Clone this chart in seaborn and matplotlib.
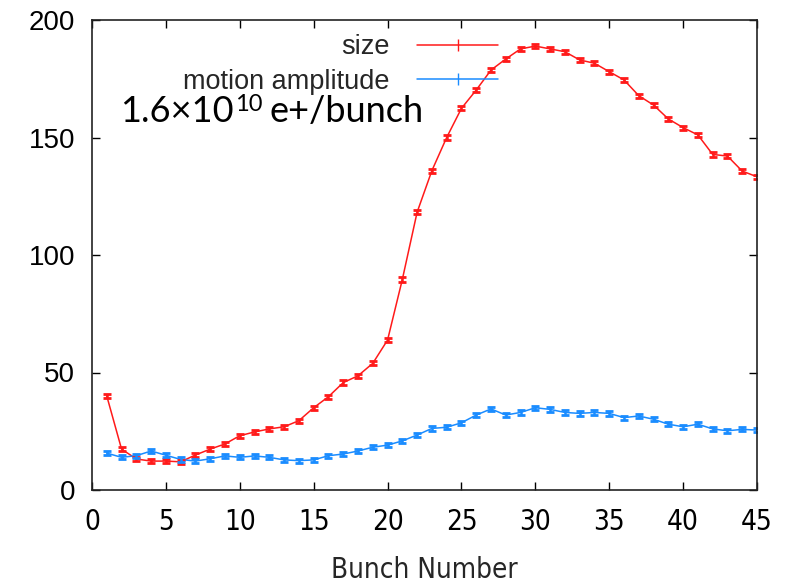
import matplotlib
matplotlib.use("Agg")
import matplotlib.pyplot as plt
import seaborn as sns
import numpy as np
import pandas as pd
from matplotlib.lines import Line2D
from matplotlib.transforms import offset_copy

bunch = list(range(1, 46))
size = [40, 17.4, 13.2, 12.3, 12.3, 12.0, 14.9, 17.4, 19.6, 23.1,
        24.7, 26.0, 26.9, 29.5, 35.0, 39.7, 45.7, 48.6, 53.9, 63.8,
        89.6, 118.2, 135.9, 150.0, 162.4, 170.2, 178.7, 183.4, 187.7, 188.9,
        187.7, 186.5, 183.0, 181.6, 178.0, 174.5, 167.8, 163.8, 157.9, 154.2,
        151.1, 142.8, 142.1, 135.7, 133.3]
motion = [15.7, 13.9, 14.6, 16.6, 14.8, 13.0, 12.3, 13.3, 14.5, 13.9,
          14.5, 13.9, 12.8, 12.5, 12.8, 14.6, 15.3, 16.6, 18.2, 19.1,
          20.9, 23.4, 26.2, 26.7, 28.6, 31.9, 34.5, 31.9, 33.0, 35.0,
          34.3, 33.0, 32.6, 33.0, 32.6, 30.8, 31.5, 30.1, 28.0, 26.9,
          28.0, 26.0, 25.2, 25.8, 25.5]
xticks = [0, 5, 10, 15, 20, 25, 30, 35, 40, 45]
yticks = [0, 50, 100, 150, 200]

sns.set_style("ticks")
plt.rcParams['font.family'] = ['Liberation Sans', 'DejaVu Sans']

fig = plt.figure(figsize=(8.08, 5.84), dpi=100)
ax = fig.add_axes([92/808, 94/584, 665/808, 470/584])

red = '#ff1a1a'
blue = '#1a8cff'
df = pd.DataFrame({'bunch': bunch, 'size': size, 'motion': motion})

sns.lineplot(data=df, x='bunch', y='size', color=red, lw=1.1, ax=ax, legend=False)
sns.lineplot(data=df, x='bunch', y='motion', color=blue, lw=1.1, ax=ax, legend=False)
ax.errorbar(bunch, size, yerr=0.9, fmt='none', ecolor=red, elinewidth=1.8, capsize=3, capthick=2)
ax.errorbar(bunch, motion, yerr=0.9, fmt='none', ecolor=blue, elinewidth=1.8, capsize=3, capthick=2)

lh1 = Line2D([], [], color=red, lw=1.1, marker='|', markersize=8, markevery=[0, 1, 2])
lh2 = Line2D([], [], color=blue, lw=1.1, marker='|', markersize=8, markevery=[0, 1, 2])

ax.set_xlim(0, 45)
ax.set_ylim(0, 200)
ax.set_xticks(xticks)
ax.set_yticks(yticks)
ax.tick_params(direction='in', length=6, width=1, top=True, right=True,
               colors='black')
ax.tick_params(axis='x', labelsize=20, pad=13)
ax.tick_params(axis='y', labelsize=20, pad=12)
for lab in ax.get_xticklabels():
    lab.set_family('DejaVu Sans')
    lab.set_fontstretch('condensed')
for s in ax.spines.values():
    s.set_visible(True)
    s.set_linewidth(1.2)
    s.set_color('#222222')

xl = ax.set_xlabel('Bunch Number', fontsize=20, labelpad=14)
xl.set_family('DejaVu Sans')
xl.set_fontstretch('condensed')
ax.set_ylabel('')

leg = ax.legend([lh1, lh2], ['size', 'motion amplitude'], markerfirst=False,
                frameon=False, fontsize=19.5, handlelength=3.0, handletextpad=1.0,
                loc='upper right', bbox_to_anchor=(0.615, 0.975), borderaxespad=0,
                borderpad=0.1, labelspacing=0.3)

# annotation "1.6×10^10 e+/bunch" built from three text pieces
renderer = fig.canvas.get_renderer()
t1 = ax.text(0.042, 0.783, '1.6×10', transform=ax.transAxes,
             fontsize=26, family='Lato', color='black', va='baseline', ha='left')
w1 = t1.get_window_extent(renderer).width * 72 / fig.dpi
t2 = ax.text(0.042, 0.783, '10', fontsize=17, family='Lato', color='black',
             va='baseline', ha='left',
             transform=offset_copy(ax.transAxes, fig=fig, x=w1 + 1, y=8, units='points'))
w2 = t2.get_window_extent(renderer).width * 72 / fig.dpi
ax.text(0.042, 0.783, 'e+/bunch', fontsize=26, family='Lato', color='black',
        va='baseline', ha='left',
        transform=offset_copy(ax.transAxes, fig=fig, x=w1 + w2 + 6, y=0, units='points'))

fig.savefig('out.png', dpi=100)
